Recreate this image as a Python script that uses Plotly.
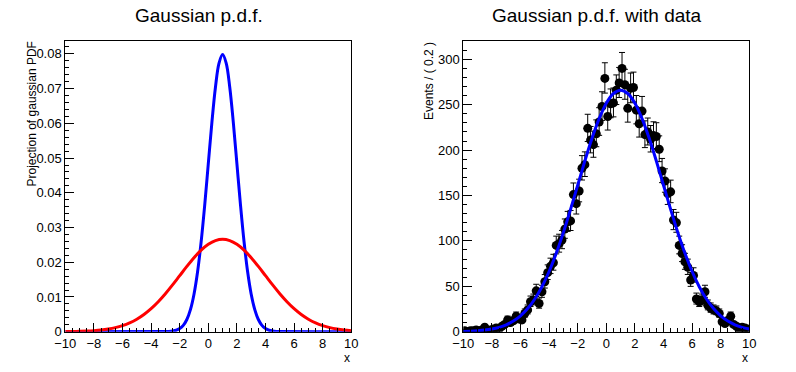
import math
import plotly.graph_objects as go

# ---------------- data ----------------
# Left panel: projection of the gaussian PDF (sigma=1, blue) and (sigma=3, red)
blue_x = [-10, -3.0, -2.75, -2.5, -2.25, -2.0, -1.75, -1.5, -1.25, -1.0, -0.75, -0.5, -0.25,
          0.0, 0.25, 0.5, 0.75, 1.0, 1.25, 1.5, 1.75, 2.0, 2.25, 2.5, 2.75, 3.0, 3.25,
          3.5, 3.75, 4.0, 4.25, 4.5, 4.75, 5.0, 10]
blue_y = [0.0, 0.0000267, 0.0000705, 0.000175, 0.000406, 0.000887, 0.00182, 0.00351, 0.00635,
          0.01080, 0.01726, 0.02590, 0.03653, 0.04839, 0.06023, 0.07041, 0.07734, 0.07979,
          0.07734, 0.07041, 0.06023, 0.04839, 0.03653, 0.02590, 0.01726, 0.01080, 0.00635,
          0.00351, 0.00182, 0.000887, 0.000406, 0.000175, 0.0000705, 0.0000267, 0.0]

curve_x = [-10, -9.5, -9, -8.5, -8, -7.5, -7, -6.5, -6, -5.5, -5, -4.5, -4, -3.5, -3, -2.5,
           -2, -1.5, -1, -0.5, 0, 0.5, 1, 1.5, 2, 2.5, 3, 3.5, 4, 4.5, 5, 5.5, 6, 6.5, 7,
           7.5, 8, 8.5, 9, 9.5, 10]
red_y = [0.0000320, 0.0000582, 0.0001028, 0.0001767, 0.0002955, 0.0004805, 0.0007599,
         0.0011687, 0.0017484, 0.0025439, 0.0036000, 0.0049533, 0.0066328, 0.0086357,
         0.0109356, 0.0134685, 0.0161337, 0.0187968, 0.0212996, 0.0234744, 0.0251625,
         0.0262331, 0.0266000, 0.0262331, 0.0251625, 0.0234744, 0.0212996, 0.0187968,
         0.0161337, 0.0134685, 0.0109356, 0.0086357, 0.0066328, 0.0049533, 0.0036000,
         0.0025439, 0.0017484, 0.0011687, 0.0007599, 0.0004805, 0.0002955]

# Right panel: fitted curve and binned data (bin width 0.2)
fit_y = [0.32, 0.58, 1.03, 1.77, 2.96, 4.81, 7.60, 11.69, 17.48, 25.44, 36.00, 49.53, 66.33,
         86.36, 109.36, 134.69, 161.34, 187.97, 213.00, 234.74, 251.63, 262.33, 266.00,
         262.33, 251.63, 234.74, 213.00, 187.97, 161.34, 134.69, 109.36, 86.36, 66.33,
         49.53, 36.00, 25.44, 17.48, 11.69, 7.60, 4.81, 2.96]

data_x = [round(-9.9 + 0.2 * i, 1) for i in range(100)]
data_y = [1, 0, 1, 1, 2, 1, 2, 5, 1, 2,
          3, 4, 3, 6, 8, 13, 10, 12, 17, 14,
          13, 20, 24, 33, 35, 45, 31, 44, 55, 65,
          72, 76, 95, 97, 101, 113, 121, 122, 151, 141,
          155, 180, 184, 224, 211, 206, 218, 231, 248, 279,
          237, 251, 252, 266, 274, 290, 272, 246, 268, 269,
          244, 229, 243, 217, 220, 212, 216, 215, 201, 177,
          166, 152, 154, 123, 120, 95, 86, 77, 71, 57,
          62, 36, 33, 35, 44, 29, 26, 24, 23, 20,
          11, 9, 12, 17, 8, 6, 2, 5, 4, 3]

x_ticks = [-10, -8, -6, -4, -2, 0, 2, 4, 6, 8, 10]
left_yticks = [0, 0.01, 0.02, 0.03, 0.04, 0.05, 0.06, 0.07, 0.08]
left_ytext = ["0", "0.01", "0.02", "0.03", "0.04", "0.05", "0.06", "0.07", "0.08"]
right_yticks = [0, 50, 100, 150, 200, 250, 300]

titles = ["Gaussian p.d.f.", "Gaussian p.d.f. with data"]
ytitles = ["Projection of gaussian PDF", "Events / ( 0.2 )"]

# ---------------- figure ----------------
W, H = 796, 372
FONT = "Liberation Sans, Arial, Helvetica, sans-serif"

err_up = [0.5 + math.sqrt(n + 0.25) for n in data_y]
err_dn = [-0.5 + math.sqrt(n + 0.25) for n in data_y]

fig = go.Figure()
fig.add_trace(go.Scatter(x=blue_x, y=blue_y, mode="lines", line=dict(color="#0000ff", width=3, shape="spline"),
                         xaxis="x", yaxis="y", showlegend=False))
fig.add_trace(go.Scatter(x=curve_x, y=red_y, mode="lines", line=dict(color="#ff0000", width=3, shape="spline"),
                         xaxis="x", yaxis="y", showlegend=False))
fig.add_trace(go.Scatter(x=data_x, y=data_y, mode="markers",
                         marker=dict(color="black", size=9),
                         error_y=dict(type="data", symmetric=False, array=err_up, arrayminus=err_dn,
                                      color="black", thickness=1, width=3),
                         xaxis="x2", yaxis="y2", showlegend=False))
fig.add_trace(go.Scatter(x=curve_x, y=fit_y, mode="lines", line=dict(color="#0000ff", width=3, shape="spline"),
                         xaxis="x2", yaxis="y2", showlegend=False))

def px_x(p):
    return p / W

def px_y(p):
    return 1 - p / H

axis_common = dict(showline=True, linecolor="black", linewidth=1, mirror=True,
                   ticks="inside", ticklen=9, tickcolor="black", tickwidth=1,
                   showgrid=False, zeroline=False, automargin=False,
                   tickfont=dict(family=FONT, size=13, color="black"))

fig.update_layout(
    width=W, height=H,
    margin=dict(l=0, r=0, t=0, b=0, autoexpand=False),
    paper_bgcolor="white", plot_bgcolor="white",
    xaxis=dict(domain=[px_x(65.3), px_x(351.3)], range=[-10, 10], tickvals=x_ticks,
               minor=dict(dtick=0.5, ticklen=4, ticks="inside", tickcolor="black"),
               anchor="y", ticklabelstandoff=0, **axis_common),
    yaxis=dict(domain=[px_y(331.7), px_y(40.7)], range=[0, 0.0838], tickvals=left_yticks,
               ticktext=left_ytext,
               minor=dict(dtick=0.002, ticklen=4, ticks="inside", tickcolor="black"),
               anchor="x", **axis_common),
    xaxis2=dict(domain=[px_x(463.3), px_x(749.3)], range=[-10, 10], tickvals=x_ticks,
                minor=dict(dtick=0.5, ticklen=4, ticks="inside", tickcolor="black"),
                anchor="y2", ticklabelstandoff=0, **axis_common),
    yaxis2=dict(domain=[px_y(331.7), px_y(40.7)], range=[0, 320.5], tickvals=right_yticks,
                minor=dict(dtick=10, ticklen=4, ticks="inside", tickcolor="black"),
                anchor="x2", **axis_common),
)

annotations = []
for i, off in enumerate([0, 398]):
    annotations.append(dict(text=titles[i], x=px_x(off + 199), y=px_y(16), xref="paper", yref="paper",
                            xanchor="center", yanchor="middle", showarrow=False,
                            font=dict(family=FONT, size=19, color="black")))
    annotations.append(dict(text=ytitles[i], x=px_x(off + 31), y=px_y(40), xref="paper", yref="paper",
                            xanchor="center", yanchor="top", textangle=-90, showarrow=False,
                            font=dict(family=FONT, size=12, color="black")))
    annotations.append(dict(text="x", x=px_x(off + 352), y=px_y(358), xref="paper", yref="paper",
                            xanchor="right", yanchor="middle", showarrow=False,
                            font=dict(family=FONT, size=12, color="black")))
fig.update_layout(annotations=annotations)

fig.write_html("out.html", config={"displayModeBar": False},
               post_script="document.body.style.margin='0';document.body.style.overflow='hidden';")
